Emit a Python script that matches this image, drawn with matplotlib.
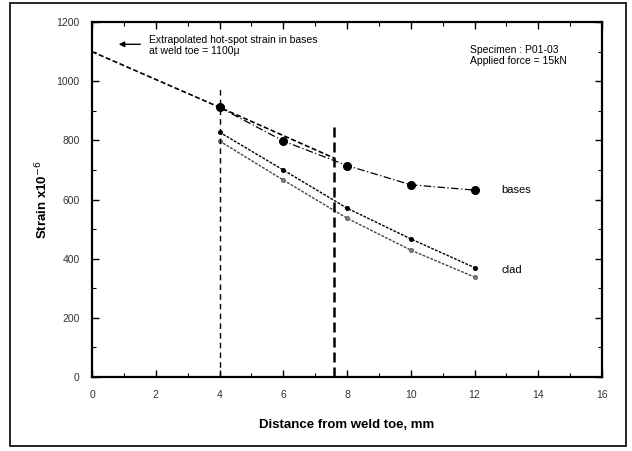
import matplotlib
matplotlib.use("Agg")
import matplotlib.pyplot as plt
from matplotlib.patches import Rectangle

plt.rcParams["font.family"] = ["Liberation Sans", "DejaVu Sans"]

# strain readings along the gauge line, mm from weld toe
dist = [4, 6, 8, 10, 12]
bases = [912, 798, 715, 650, 632]
clad_upper = [828, 700, 571, 467, 370]
clad_lower = [798, 666, 537, 429, 338]

# linear extrapolation to the weld toe
extrap_x = [0, 4, 7.6]
extrap_y = [1100, 912, 740]

# gauge positions marked by vertical lines
gauge_x = [4, 7.6]
gauge_top = [980, 862]

fig = plt.figure(figsize=(6.32, 4.51), dpi=100)
ax = fig.add_axes([0.1456, 0.164, 0.807, 0.787])
fig.patches.append(Rectangle((0.016, 0.01), 0.974, 0.983, transform=fig.transFigure,
                             fill=False, edgecolor="black", linewidth=1.2))

ax.plot(extrap_x, extrap_y, color="black", linestyle=(0, (3, 1.5)), linewidth=1.2)
ax.plot(dist, bases, color="black", linestyle=(0, (6, 2, 1, 2)), linewidth=0.9,
        marker="o", markersize=5.5)
ax.plot(dist, clad_upper, color="black", linestyle=(0, (2, 1)), linewidth=1.0,
        marker="o", markersize=2.6)
ax.plot(dist, clad_lower, color="#444444", linestyle=(0, (2, 1)), linewidth=1.0,
        marker="o", markersize=2.6, markerfacecolor="#888888", markeredgecolor="#666666")

ax.plot([gauge_x[0]] * 2, [0, gauge_top[0]], color="black", linestyle=(0, (4, 3)), linewidth=1.0)
ax.plot([gauge_x[1]] * 2, [0, gauge_top[1]], color="black", linestyle=(0, (4, 2)), linewidth=1.8)

ax.text(12.85, 632, "bases", fontsize=8, va="center")
ax.text(12.85, 362, "clad", fontsize=8, va="center")
ax.text(11.85, 1088, "Specimen : P01-03\nApplied force = 15kN", fontsize=7.5,
        va="center", linespacing=1.1)
ax.annotate("", xy=(0.75, 1125), xytext=(1.6, 1125),
            arrowprops=dict(arrowstyle="-|>", color="black", lw=1.0, mutation_scale=8))
ax.text(1.8, 1122, "Extrapolated hot-spot strain in bases\nat weld toe = 1100\u03bc",
        fontsize=7.5, va="center", linespacing=1.1)

ax.set_xlim(0, 16)
ax.set_ylim(0, 1200)
ax.set_xticks(range(0, 17, 2))
ax.set_xticks(range(0, 17), minor=True)
ax.set_yticks(range(0, 1201, 200))
ax.set_yticks(range(0, 1201, 100), minor=True)
ax.tick_params(which="both", direction="in", top=True, right=True, labelsize=7.5, pad=9,
               labelcolor="#333333")
ax.tick_params(which="major", length=5, width=1.0)
ax.tick_params(which="minor", length=3, width=0.8)
for s in ax.spines.values():
    s.set_linewidth(1.6)

ax.set_xlabel("Distance from weld toe, mm", fontsize=9.5, fontweight="bold", labelpad=14)
ax.set_ylabel("Strain x10$^{-6}$", fontsize=9.5, fontweight="bold", labelpad=4)

fig.savefig("out.png", dpi=100)
